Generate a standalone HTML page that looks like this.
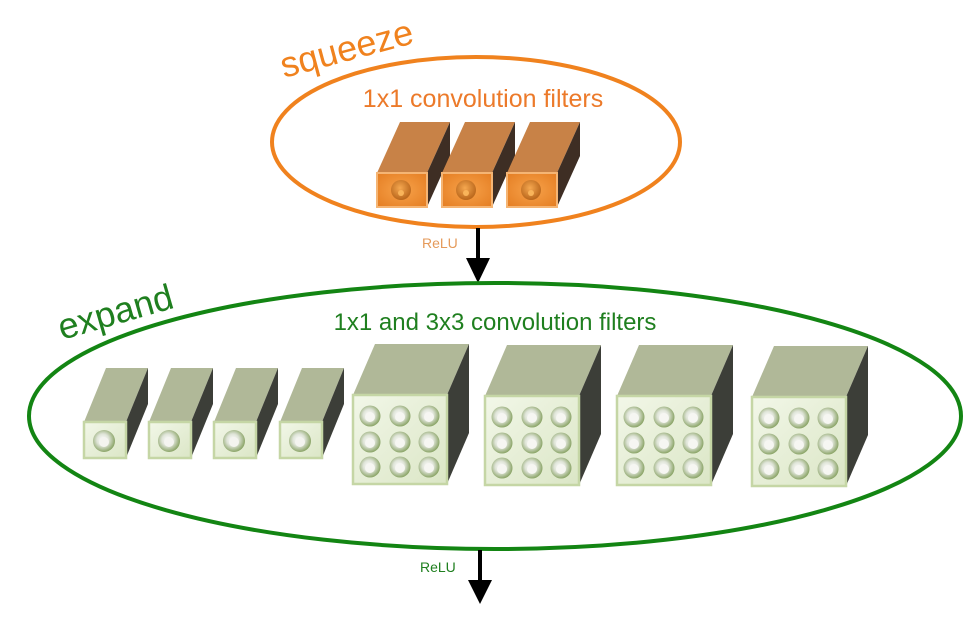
<!DOCTYPE html>
<html><head><meta charset="utf-8"><style>
html,body{margin:0;padding:0;background:#fff;}
svg{display:block;}
text{font-family:"Liberation Sans",sans-serif;}
</style></head><body>
<svg width="977" height="625" viewBox="0 0 977 625" xmlns="http://www.w3.org/2000/svg">
<defs>
<radialGradient id="ofront" cx="50%" cy="50%" r="70%"><stop offset="0" stop-color="#f7a24a"/><stop offset="1" stop-color="#e47d22"/></radialGradient>
<radialGradient id="oknob" cx="45%" cy="40%" r="60%"><stop offset="0" stop-color="#f6a850"/><stop offset="1" stop-color="#b9661b"/></radialGradient>
<linearGradient id="gfront" x1="0" y1="0" x2="1" y2="1"><stop offset="0" stop-color="#f2f7e8"/><stop offset="1" stop-color="#dbe6c6"/></linearGradient>
<radialGradient id="gknob" cx="45%" cy="45%" r="60%"><stop offset="0" stop-color="#ffffff"/><stop offset="0.45" stop-color="#dfe4d8"/><stop offset="1" stop-color="#7d9a55"/></radialGradient>
<g id="obox">
<polygon points="0,0 50,0 73,-51 23,-51" fill="#c88247"/>
<polygon points="50,0 73,-51 73,-17 50,34" fill="#3e2e24"/>
<rect x="0" y="0" width="50" height="34" fill="url(#ofront)" stroke="#f5b574" stroke-width="2"/>
<circle cx="24" cy="17" r="10" fill="url(#oknob)"/>
<circle cx="24" cy="20" r="3" fill="#f9b45a"/>
</g>
<g id="sbox">
<polygon points="0,0 42,0 64,-54 22,-54" fill="#b0b898"/>
<polygon points="42,0 64,-54 64,-18 42,36" fill="#3c3e38"/>
<rect x="0" y="0" width="42" height="36" fill="url(#gfront)" stroke="#c5d6a5" stroke-width="2.5"/>
<circle cx="20" cy="19" r="11" fill="url(#gknob)"/>
<circle cx="20" cy="20" r="5" fill="#f4f4f0"/>
</g>
<g id="knob"><circle r="10.5" fill="url(#gknob)"/><circle r="5" cy="1" fill="#f6f6f2"/></g>
<g id="lbox">
<polygon points="0,0 94,0 116,-51 22,-51" fill="#b0b898"/>
<polygon points="94,0 116,-51 116,38 94,89" fill="#3c3e38"/>
<rect x="0" y="0" width="94" height="89" fill="url(#gfront)" stroke="#c5d6a5" stroke-width="2.5"/>
<use href="#knob" x="17" y="21"/><use href="#knob" x="47" y="21"/><use href="#knob" x="76" y="21"/>
<use href="#knob" x="17" y="47"/><use href="#knob" x="47" y="47"/><use href="#knob" x="76" y="47"/>
<use href="#knob" x="17" y="72"/><use href="#knob" x="47" y="72"/><use href="#knob" x="76" y="72"/>
</g>
</defs>

<!-- squeeze -->
<ellipse cx="476" cy="142" rx="204" ry="85" fill="none" stroke="#f0821e" stroke-width="4"/>
<text x="284" y="78" font-size="36" fill="#f0821e" transform="rotate(-15 284 78)">squeeze</text>
<text x="483" y="107" font-size="25" fill="#ec7a2a" text-anchor="middle">1x1 convolution filters</text>
<use href="#obox" x="377" y="173"/>
<use href="#obox" x="442" y="173"/>
<use href="#obox" x="507" y="173"/>

<line x1="478" y1="228" x2="478" y2="260" stroke="#000" stroke-width="4"/>
<polygon points="466,258 490,258 478,283" fill="#000"/>
<text x="422" y="248" font-size="14" fill="#e59a5a">ReLU</text>

<!-- expand -->
<ellipse cx="495" cy="416" rx="466" ry="133" fill="none" stroke="#138513" stroke-width="4"/>
<text x="62" y="340" font-size="36" fill="#1f7f1f" transform="rotate(-16 62 340)">expand</text>
<text x="495" y="330" font-size="24" fill="#1f7f1f" text-anchor="middle">1x1 and 3x3 convolution filters</text>

<use href="#sbox" x="84" y="422"/>
<use href="#sbox" x="149" y="422"/>
<use href="#sbox" x="214" y="422"/>
<use href="#sbox" x="280" y="422"/>
<use href="#lbox" x="353" y="395"/>
<use href="#lbox" x="485" y="396"/>
<use href="#lbox" x="617" y="396"/>
<use href="#lbox" x="752" y="397"/>

<line x1="480" y1="550" x2="480" y2="582" stroke="#000" stroke-width="4"/>
<polygon points="468,580 492,580 480,604" fill="#000"/>
<text x="420" y="572" font-size="14" fill="#1f7f1f">ReLU</text>
</svg>
</body></html>
